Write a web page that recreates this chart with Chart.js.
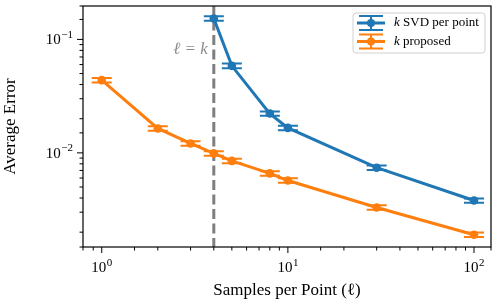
<!DOCTYPE html>
<html>
<head>
<meta charset="utf-8">
<script src="https://cdn.jsdelivr.net/npm/chart.js@4"></script>
<style>
  html, body { margin: 0; padding: 0; background: #fff; }
  #wrap { width: 498px; height: 307px; }
</style>
</head>
<body>
<div id="wrap"><canvas id="errChart" width="498" height="307"></canvas></div>
<script>
// data
const svdX = [4, 5, 8, 10, 30, 100];
const svdY = [0.153, 0.0585, 0.0222, 0.0166, 0.0074, 0.0038];
const svdErr = [0.007, 0.0027, 0.001, 0.00075, 0.00033, 0.00017];

const propX = [1, 2, 3, 4, 5, 8, 10, 30, 100];
const propY = [0.0438, 0.0164, 0.0121, 0.0099, 0.0085, 0.0066, 0.0057, 0.0033, 0.0019];
const propErr = [0.002, 0.00075, 0.00055, 0.00045, 0.00039, 0.0003, 0.00026, 0.00015, 0.00009];

const kLine = 4;   // l = k
const xExp = ['0', '1', '2'];
const yExp = ['−2', '−1'];

const blue = '#1f77b4';
const orange = '#ff7f0e';
const serif = "'Liberation Serif', 'DejaVu Serif', serif";

function toPoints(xs, ys) {
  return xs.map((x, i) => ({ x: x, y: ys[i] }));
}

function isDecade(v) {
  const l = Math.log10(v);
  return Math.abs(l - Math.round(l)) < 1e-9;
}

// draws "10" with a raised exponent; align: 'center' or 'right'
function drawPow(ctx, exp, x, y, align) {
  ctx.font = '15px ' + serif;
  const bw = ctx.measureText('10').width;
  ctx.font = '11px ' + serif;
  const ew = ctx.measureText(exp).width;
  const total = bw + ew + 0.5;
  const left = align === 'right' ? x - total : x - total / 2;
  ctx.textAlign = 'left';
  ctx.textBaseline = 'alphabetic';
  ctx.font = '15px ' + serif;
  ctx.fillText('10', left, y + 5);
  ctx.font = '11px ' + serif;
  ctx.fillText(exp, left + bw + 0.5, y - 1.5);
}

// vertical dashed line at l = k plus its label
const kLinePlugin = {
  id: 'kLine',
  beforeDatasetsDraw(chart) {
    const { ctx, chartArea, scales } = chart;
    const px = scales.x.getPixelForValue(kLine);
    ctx.save();
    ctx.strokeStyle = '#7f7f7f';
    ctx.lineWidth = 3;
    ctx.setLineDash([10, 4.5]);
    ctx.beginPath();
    ctx.moveTo(px, chartArea.top);
    ctx.lineTo(px, chartArea.bottom);
    ctx.stroke();
    ctx.setLineDash([]);
    ctx.fillStyle = '#8c8c8c';
    ctx.font = 'italic 17px ' + serif;
    ctx.textAlign = 'right';
    ctx.textBaseline = 'middle';
    ctx.fillText('ℓ = k', px - 6, scales.y.getPixelForValue(0.081));
    ctx.restore();
  }
};

// error bar caps
const errorBarPlugin = {
  id: 'errorBars',
  afterDatasetsDraw(chart) {
    const { ctx, scales } = chart;
    chart.data.datasets.forEach(ds => {
      ctx.save();
      ctx.strokeStyle = ds.borderColor;
      ctx.lineWidth = 2;
      ds.data.forEach((p, i) => {
        const px = scales.x.getPixelForValue(p.x);
        const top = scales.y.getPixelForValue(p.y + ds.yErr[i]);
        const bot = scales.y.getPixelForValue(p.y - ds.yErr[i]);
        ctx.beginPath();
        ctx.moveTo(px, top); ctx.lineTo(px, bot);
        ctx.moveTo(px - 10, top); ctx.lineTo(px + 10, top);
        ctx.moveTo(px - 10, bot); ctx.lineTo(px + 10, bot);
        ctx.stroke();
      });
      ctx.restore();
    });
  }
};

// frame, major/minor ticks, tick labels, legend
const framePlugin = {
  id: 'frame',
  afterDraw(chart) {
    const { ctx, chartArea: a, scales } = chart;
    ctx.save();
    ctx.strokeStyle = '#000';
    ctx.lineWidth = 1.2;
    ctx.strokeRect(a.left, a.top, a.right - a.left, a.bottom - a.top);

    ctx.lineWidth = 1;
    ctx.fillStyle = '#000';
    scales.x.ticks.forEach(t => {
      const px = scales.x.getPixelForValue(t.value);
      if (px < a.left - 0.5 || px > a.right + 0.5) return;
      const major = isDecade(t.value);
      ctx.beginPath();
      ctx.moveTo(px, a.bottom); ctx.lineTo(px, a.bottom + (major ? 6 : 3.5));
      ctx.stroke();
      if (major) drawPow(ctx, xExp[Math.round(Math.log10(t.value))], px, a.bottom + 20, 'center');
    });
    scales.y.ticks.forEach(t => {
      const py = scales.y.getPixelForValue(t.value);
      if (py < a.top - 0.5 || py > a.bottom + 0.5) return;
      const major = isDecade(t.value);
      ctx.beginPath();
      ctx.moveTo(a.left, py); ctx.lineTo(a.left - (major ? 6 : 3.5), py);
      ctx.stroke();
      if (major) drawPow(ctx, yExp[Math.round(Math.log10(t.value)) + 2], a.left - 10, py, 'right');
    });

    // legend box
    const bx = 353, by = 13, bw = 132, bh = 40;
    ctx.fillStyle = 'rgba(255,255,255,0.8)';
    ctx.strokeStyle = '#d0d0d0';
    ctx.lineWidth = 1;
    ctx.beginPath();
    ctx.roundRect(bx, by, bw, bh, 3);
    ctx.fill();
    ctx.stroke();

    const entries = [
      { color: blue, text: ' SVD per point', y: 23 },
      { color: orange, text: ' proposed', y: 41.5 }
    ];
    entries.forEach(e => {
      const cx = 371;
      ctx.strokeStyle = e.color;
      ctx.fillStyle = e.color;
      ctx.lineWidth = 3;
      ctx.beginPath();
      ctx.moveTo(cx - 14, e.y); ctx.lineTo(cx + 14, e.y);
      ctx.stroke();
      ctx.lineWidth = 2;
      ctx.beginPath();
      ctx.moveTo(cx, e.y - 7); ctx.lineTo(cx, e.y + 7);
      ctx.moveTo(cx - 12, e.y - 7); ctx.lineTo(cx + 12, e.y - 7);
      ctx.moveTo(cx - 12, e.y + 7); ctx.lineTo(cx + 12, e.y + 7);
      ctx.stroke();
      ctx.beginPath();
      ctx.arc(cx, e.y, 4, 0, Math.PI * 2);
      ctx.fill();

      ctx.fillStyle = '#000';
      ctx.textBaseline = 'middle';
      ctx.textAlign = 'left';
      ctx.font = 'italic 13px ' + serif;
      ctx.fillText('k', 394, e.y);
      const kw = ctx.measureText('k').width;
      ctx.font = '13px ' + serif;
      ctx.fillText(e.text, 394 + kw, e.y);
    });
    ctx.restore();
  }
};

new Chart(document.getElementById('errChart'), {
  type: 'line',
  data: {
    datasets: [
      {
        label: 'k SVD per point',
        data: toPoints(svdX, svdY),
        yErr: svdErr,
        borderColor: blue,
        backgroundColor: blue,
        borderWidth: 3,
        pointRadius: 4.3,
        pointBorderWidth: 0,
        tension: 0
      },
      {
        label: 'k proposed',
        data: toPoints(propX, propY),
        yErr: propErr,
        borderColor: orange,
        backgroundColor: orange,
        borderWidth: 3,
        pointRadius: 4.3,
        pointBorderWidth: 0,
        tension: 0
      }
    ]
  },
  options: {
    responsive: false,
    animation: false,
    layout: { padding: { top: 6, right: 7, left: 0, bottom: 0 } },
    plugins: {
      legend: { display: false },
      tooltip: { enabled: false }
    },
    scales: {
      x: {
        type: 'logarithmic',
        min: 0.793,
        max: 123.4,
        grid: { display: false },
        border: { display: false },
        afterFit: s => { s.height = 60; s.paddingLeft = 0; s.paddingRight = 0; },
        ticks: { display: false, autoSkip: false },
        title: {
          display: true,
          text: 'Samples per Point (ℓ)',
          color: '#000',
          font: { family: serif, size: 17 },
          padding: { top: 0, bottom: 6 }
        }
      },
      y: {
        type: 'logarithmic',
        min: 0.00148,
        max: 0.197,
        grid: { display: false },
        border: { display: false },
        afterFit: s => { s.width = 83; s.paddingTop = 0; s.paddingBottom = 0; },
        ticks: { display: false, autoSkip: false },
        title: {
          display: true,
          text: 'Average Error',
          color: '#000',
          font: { family: serif, size: 17 },
          padding: { top: 0, bottom: 0 }
        }
      }
    }
  },
  plugins: [kLinePlugin, errorBarPlugin, framePlugin]
});
</script>
</body>
</html>
